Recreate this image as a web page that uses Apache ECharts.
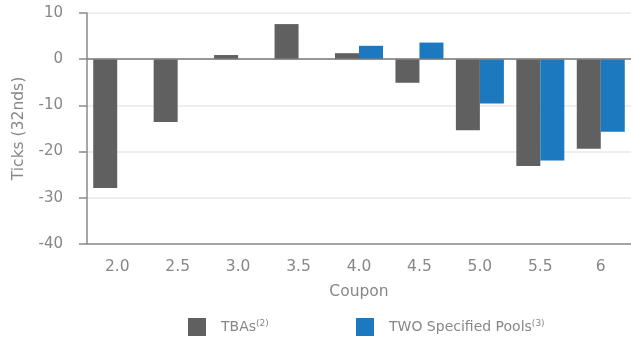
<!DOCTYPE html>
<html>
<head>
<meta charset="utf-8">
<script src="https://cdn.jsdelivr.net/npm/echarts@6/dist/echarts.min.js"></script>
<style>
  html, body { margin: 0; padding: 0; background: #ffffff; }
  #chart { width: 631px; height: 341px; }
</style>
</head>
<body>
<div id="chart"></div>
<script>
// Coupon buckets and price change in ticks (32nds)
const coupons = ['2.0', '2.5', '3.0', '3.5', '4.0', '4.5', '5.0', '5.5', '6'];
const tbaTicks = [-27.9, -13.6, 0.9, 7.6, 1.3, -5.1, -15.4, -23.1, -19.4];
const poolTicks = [null, null, null, null, 2.9, 3.6, -9.6, -21.9, -15.7];
const yTicks = { min: -40, max: 10, step: 10 };

const textGrey = '#878787';
const fontFamily = '"DejaVu Sans", sans-serif';

const legendRich = {
  n: { fontSize: 14, color: textGrey, fontFamily: fontFamily, padding: [0, 0, 0, 10] },
  s: { fontSize: 9, color: textGrey, fontFamily: fontFamily, verticalAlign: 'top', padding: [0, 0, 7, 0] }
};
const legendLabels = {
  'TBAs': '{n|TBAs}{s|(2)}',
  'TWO Specified Pools': '{n|TWO Specified Pools}{s|(3)}'
};

const chart = echarts.init(document.getElementById('chart'), null, { renderer: 'canvas' });
chart.setOption({
  animation: false,
  backgroundColor: '#ffffff',
  textStyle: { fontFamily: fontFamily },
  grid: { left: 87, top: 13, width: 546, height: 231, containLabel: false },
  legend: [
    {
      data: ['TBAs'], left: 188, top: 318, padding: 0, icon: 'rect', itemWidth: 18, itemHeight: 18,
      formatter: n => legendLabels[n], textStyle: { rich: legendRich }
    },
    {
      data: ['TWO Specified Pools'], left: 356, top: 318, padding: 0, icon: 'rect', itemWidth: 18, itemHeight: 18,
      formatter: n => legendLabels[n], textStyle: { rich: legendRich }
    }
  ],
  xAxis: {
    type: 'category',
    data: coupons,
    name: 'Coupon',
    nameLocation: 'middle',
    nameGap: 40,
    nameTextStyle: { color: textGrey, fontSize: 15.5, fontFamily: fontFamily },
    axisLine: { onZero: false, lineStyle: { color: '#8a8a8a', width: 1.5 } },
    axisTick: { alignWithLabel: true, length: 7, lineStyle: { color: '#8a8a8a', width: 1.5 } },
    axisLabel: { color: textGrey, fontSize: 15.5, margin: 15, fontFamily: fontFamily },
    splitLine: { show: false }
  },
  yAxis: {
    type: 'value',
    min: yTicks.min,
    max: yTicks.max,
    interval: yTicks.step,
    name: 'Ticks (32nds)',
    nameLocation: 'middle',
    nameGap: 60,
    nameTextStyle: { color: textGrey, fontSize: 15.5, fontFamily: fontFamily },
    axisLine: { show: true, lineStyle: { color: '#8a8a8a', width: 1.5 } },
    axisTick: { show: true, length: 8, lineStyle: { color: '#8a8a8a', width: 1.5 } },
    axisLabel: { color: textGrey, fontSize: 15, margin: 24, fontFamily: fontFamily },
    splitLine: { show: true, lineStyle: { color: '#e8e8e8', width: 1.5 } }
  },
  series: [
    {
      name: 'TBAs',
      type: 'bar',
      data: tbaTicks,
      barWidth: 24,
      barGap: '0%',
      itemStyle: { color: '#606060' },
      markLine: {
        silent: true,
        symbol: 'none',
        label: { show: false },
        lineStyle: { color: '#7a7a7a', width: 1.5, type: 'solid' },
        data: [{ yAxis: 0 }]
      }
    },
    {
      name: 'TWO Specified Pools',
      type: 'bar',
      data: poolTicks,
      barWidth: 24,
      barGap: '0%',
      itemStyle: { color: '#1c79c0' }
    }
  ]
});
</script>
</body>
</html>
